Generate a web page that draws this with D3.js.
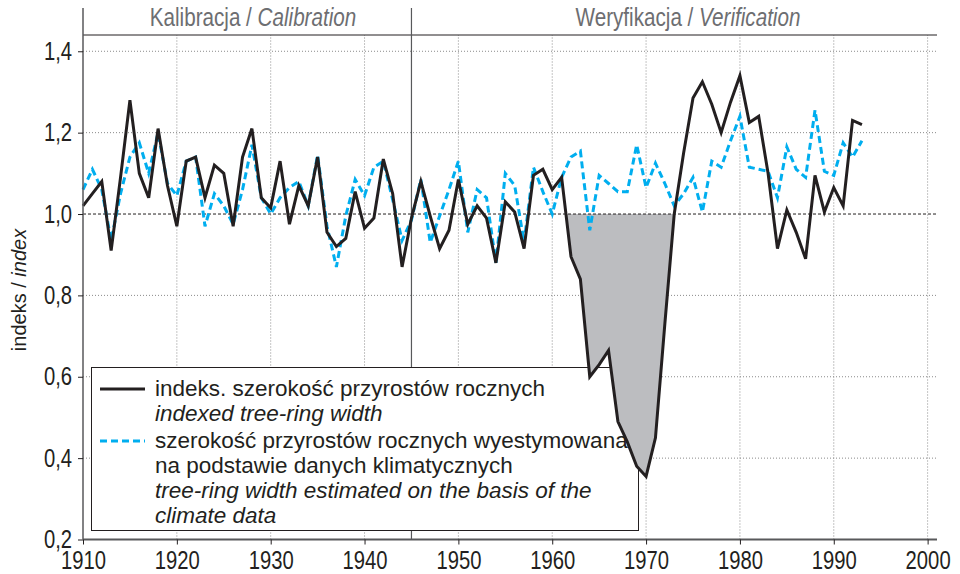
<!DOCTYPE html>
<html>
<head>
<meta charset="utf-8">
<script src="https://cdn.jsdelivr.net/npm/d3@7"></script>
<style>
  body { margin: 0; background: #fff; }
  svg { display: block; }
  .narrow { font-family: "Liberation Sans", Arial, sans-serif; }
  .reg { font-family: "Liberation Sans", Arial, sans-serif; }
</style>
</head>
<body>
<div id="chart"></div>
<script>
// years and the two series
const years = d3.range(1910, 1994);
const ringIndex = [
  1.02, 1.05, 1.08, 0.91, 1.09, 1.28, 1.10, 1.04, 1.21, 1.07,
  0.97, 1.13, 1.14, 1.04, 1.12, 1.10, 0.97, 1.14, 1.21, 1.04,
  1.015, 1.13, 0.975, 1.07, 1.02, 1.14, 0.955, 0.92, 0.94, 1.055,
  0.965, 0.99, 1.135, 1.05, 0.87, 0.99, 1.08, 0.995, 0.915, 0.96,
  1.085, 0.975, 1.02, 0.99, 0.88, 1.03, 1.005, 0.915, 1.095, 1.11,
  1.06, 1.09, 0.895, 0.84, 0.60, 0.63, 0.665, 0.49, 0.44, 0.38,
  0.355, 0.45, 0.73, 1.00, 1.15, 1.285, 1.325, 1.27, 1.20, 1.275,
  1.34, 1.225, 1.24, 1.10, 0.915, 1.01, 0.955, 0.89, 1.095, 1.005,
  1.065, 1.02, 1.23, 1.22
];
const estimated = [
  1.06, 1.11, 1.06, 0.935, 1.05, 1.14, 1.175, 1.10, 1.20, 1.075,
  1.045, 1.13, 1.14, 0.97, 1.05, 1.02, 0.975, 1.06, 1.17, 1.04,
  1.00, 1.04, 1.065, 1.08, 1.02, 1.145, 0.97, 0.87, 0.995, 1.085,
  1.045, 1.115, 1.13, 1.035, 0.935, 0.985, 1.085, 0.93, 0.995, 1.06,
  1.13, 0.955, 1.06, 1.04, 0.88, 1.10, 1.07, 0.93, 1.115, 1.055,
  1.00, 1.09, 1.14, 1.155, 0.96, 1.095, 1.075, 1.055, 1.055, 1.17,
  1.065, 1.125, 1.075, 1.02, 1.05, 1.09, 1.005, 1.13, 1.115, 1.18,
  1.24, 1.115, 1.11, 1.105, 1.04, 1.165, 1.11, 1.09, 1.255, 1.105,
  1.095, 1.175, 1.14, 1.18
];
const xTicks = d3.range(1910, 2001, 10);
const yTicks = [0.2, 0.4, 0.6, 0.8, 1.0, 1.2, 1.4];
const splitYear = 1945;
const shadeYears = [1961, 1974];
const periods = [
  { pl: "Kalibracja / ", en: "Calibration", x: 253 },
  { pl: "Weryfikacja / ", en: "Verification", x: 688 }
];
const legendItems = [
  { pl: ["indeks. szerokość przyrostów rocznych"], en: ["indexed tree-ring width"], dashed: false },
  { pl: ["szerokość przyrostów rocznych wyestymowana", "na podstawie danych klimatycznych"],
    en: ["tree-ring width estimated on the basis of the", "climate data"], dashed: true }
];

// narrow look: squeeze the regular face horizontally
const squeeze = 0.81;

const width = 960, height = 574;
const x = d3.scaleLinear().domain([1910, 2001]).range([83, 937]);
const y = d3.scaleLinear().domain([0.2, 1.44]).range([539.5, 35]);

const svg = d3.select("#chart").append("svg")
  .attr("width", width).attr("height", height);

// grid
svg.append("g").selectAll("line").data(xTicks.slice(1)).enter().append("line")
  .attr("x1", d => x(d)).attr("x2", d => x(d))
  .attr("y1", y(0.2)).attr("y2", 35)
  .attr("stroke", "#8a8a8a").attr("stroke-width", 1).attr("stroke-dasharray", "1,2");
svg.append("g").selectAll("line").data(yTicks.filter(d => d !== 1.0 && d !== 0.2)).enter().append("line")
  .attr("x1", x(1910)).attr("x2", x(2001))
  .attr("y1", d => y(d)).attr("y2", d => y(d))
  .attr("stroke", "#8a8a8a").attr("stroke-width", 1).attr("stroke-dasharray", "1,2");

// frame lines
svg.append("line").attr("x1", x(1910)).attr("x2", x(2001)).attr("y1", 35).attr("y2", 35)
  .attr("stroke", "#231f20").attr("stroke-width", 1);
svg.append("line").attr("x1", x(splitYear)).attr("x2", x(splitYear)).attr("y1", 8).attr("y2", y(0.2))
  .attr("stroke", "#58595b").attr("stroke-width", 1.2);

// legend box sits under the data
const lg = svg.append("g");
lg.append("rect").attr("x", 91.5).attr("y", 367.5).attr("width", 547).attr("height", 163)
  .attr("fill", "#fff").attr("stroke", "#231f20").attr("stroke-width", 1);
var rowY = 396;
legendItems.forEach(function (item) {
  lg.append("line").attr("x1", 100).attr("x2", 145)
    .attr("y1", rowY - 7).attr("y2", rowY - 7)
    .attr("stroke", item.dashed ? "#00aeef" : "#231f20").attr("stroke-width", 3)
    .attr("stroke-dasharray", item.dashed ? "7,4" : null);
  item.pl.concat(item.en).forEach(function (s, k) {
    lg.append("text").attr("class", "reg")
      .attr("x", 155).attr("y", rowY + k * 25)
      .attr("font-size", 22.5).attr("fill", "#231f20")
      .attr("font-style", k >= item.pl.length ? "italic" : null)
      .text(s);
  });
  rowY += (item.pl.length + item.en.length) * 25 + 2;
});

// shaded drop below 1.0
var shadePts = [];
for (var i = 0; i < years.length; i++) {
  var yr = years[i];
  if (yr < shadeYears[0] || yr > shadeYears[1]) continue;
  if (yr > shadeYears[0]) {
    var prev = ringIndex[i - 1], cur = ringIndex[i];
    if ((prev - 1) * (cur - 1) < 0) {
      var t = (1 - prev) / (cur - prev);
      shadePts.push([yr - 1 + t, 1]);
    }
  }
  if (ringIndex[i] <= 1) shadePts.push([yr, ringIndex[i]]);
}
svg.append("path").datum(shadePts)
  .attr("fill", "#bcbdc0")
  .attr("d", d3.area().x(d => x(d[0])).y0(y(1)).y1(d => y(d[1])));

// 1.0 reference
svg.append("line")
  .attr("x1", x(1910)).attr("x2", x(2001)).attr("y1", y(1)).attr("y2", y(1))
  .attr("stroke", "#231f20").attr("stroke-width", 1).attr("stroke-dasharray", "3,2");

// series
const line = d3.line().x((d, i) => x(years[i])).y(d => y(d));
svg.append("path").datum(estimated)
  .attr("fill", "none").attr("stroke", "#00aeef").attr("stroke-width", 3)
  .attr("stroke-dasharray", "7,4").attr("d", line);
svg.append("path").datum(ringIndex)
  .attr("fill", "none").attr("stroke", "#231f20").attr("stroke-width", 3)
  .attr("stroke-linejoin", "miter").attr("d", line);

// axes
const xAxis = svg.append("g").attr("transform", "translate(0," + y(0.2) + ")")
  .call(d3.axisBottom(x).tickValues(xTicks).tickFormat(d3.format("d")).tickSize(5).tickPadding(7));
xAxis.select(".domain").attr("stroke", "#58595b").attr("stroke-width", 2)
  .attr("d", "M" + x(1910) + ",0H" + x(2001));
xAxis.selectAll(".tick line").attr("stroke", "#231f20");
xAxis.selectAll("text").attr("class", "narrow").attr("font-size", 25).attr("fill", "#231f20")
  .attr("transform", "scale(" + squeeze + ",1)");

const yAxis = svg.append("g").attr("transform", "translate(" + x(1910) + ",0)")
  .call(d3.axisLeft(y).tickValues(yTicks).tickFormat(d => d3.format(".1f")(d).replace(".", ",")).tickSize(5).tickPadding(6));
yAxis.select(".domain").attr("stroke", "#58595b").attr("stroke-width", 1.5)
  .attr("d", "M0,8V" + y(0.2));
yAxis.selectAll(".tick line").attr("stroke", "#231f20");
yAxis.selectAll("text").attr("class", "narrow").attr("font-size", 25).attr("fill", "#231f20")
  .attr("x", -11 / squeeze).attr("transform", "scale(" + squeeze + ",1)");

// y title
const yt = svg.append("text").attr("class", "reg")
  .attr("transform", "translate(26,290) rotate(-90)")
  .attr("text-anchor", "middle").attr("font-size", 20).attr("fill", "#231f20");
yt.append("tspan").text("indeks / ");
yt.append("tspan").attr("font-style", "italic").text("index");

// period labels
periods.forEach(function (p) {
  var t = svg.append("text").attr("class", "narrow")
    .attr("transform", "translate(" + p.x + ",26) scale(" + squeeze + ",1)")
    .attr("text-anchor", "middle")
    .attr("font-size", 25.5).attr("fill", "#6d6e71");
  t.append("tspan").text(p.pl);
  t.append("tspan").attr("font-style", "italic").text(p.en);
});
</script>
</body>
</html>
